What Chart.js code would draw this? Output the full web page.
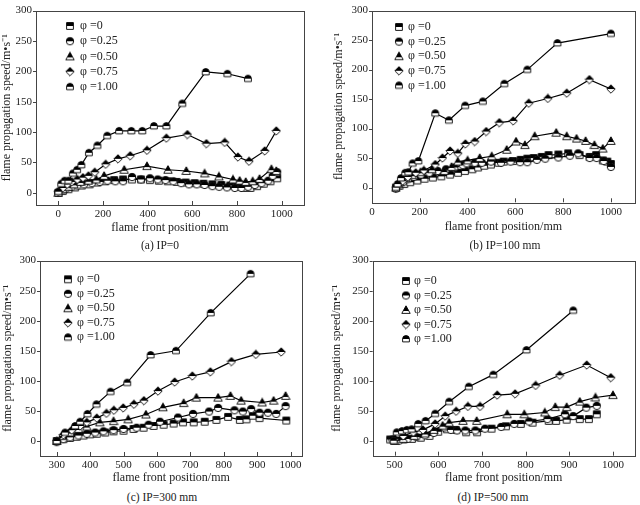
<!DOCTYPE html>
<html><head><meta charset="utf-8">
<script src="https://cdn.jsdelivr.net/npm/chart.js@4.4.0/dist/chart.umd.min.js"></script>
<style>
body{margin:0;background:#fff;width:640px;height:505px;position:relative;overflow:hidden;font-family:'Liberation Serif','Times New Roman',serif;}
canvas{position:absolute;}
.cap{position:absolute;font-size:11.5px;transform:translate(-50%,-50%);white-space:nowrap;color:#222;}
</style></head><body>
<canvas id="ca" width="320" height="235" style="left:0;top:0"></canvas>
<canvas id="cb" width="320" height="235" style="left:320px;top:0"></canvas>
<canvas id="cc" width="320" height="235" style="left:0;top:250px"></canvas>
<canvas id="cd" width="320" height="235" style="left:320px;top:250px"></canvas>
<div class="cap" style="left:160px;top:245px">(a) IP=0</div>
<div class="cap" style="left:505px;top:245px">(b) IP=100 mm</div>
<div class="cap" style="left:162px;top:497px">(c) IP=300 mm</div>
<div class="cap" style="left:493px;top:497px">(d) IP=500 mm</div>
<script>
// ---------- data ----------
const seriesLabels = ['φ =0', 'φ =0.25', 'φ =0.50', 'φ =0.75', 'φ =1.00'];
const yTicks = [0, 50, 100, 150, 200, 250, 300];

// (a) IP=0
const aTicksX = [0, 200, 400, 600, 800, 1000];
const a_x0 = [0, 20, 45, 75, 105, 140, 175, 210, 250, 290, 330, 370, 410, 450, 490, 530, 570, 610, 650, 690, 730, 770, 800, 830, 860, 890, 920, 950, 980];
const a_y0 = [0, 3, 6, 9, 12, 14, 17, 19, 21, 22, 22, 22, 21, 20, 19, 18, 17, 16, 15, 14, 13, 12, 10, 8, 8, 11, 15, 19, 24];
const a_x1 = [0, 15, 35, 60, 85, 115, 150, 185, 220, 255, 290, 330, 370, 410, 445, 480, 515, 550, 585, 620, 655, 690, 720, 755, 790, 820, 850, 880, 910, 940, 960, 980];
const a_y1 = [0, 4, 7, 10, 12, 14, 16, 18, 20, 19, 19, 26, 22, 24, 22, 21, 19, 16, 14, 14, 13, 11, 10, 9, 8, 8, 10, 13, 16, 20, 28, 34];
const a_x2 = [0, 20, 45, 70, 100, 135, 170, 205, 295, 397, 491, 573, 655, 719, 782, 812, 839, 870, 901, 954, 976];
const a_y2 = [0, 6, 10, 14, 18, 20, 22, 28, 38, 44, 38, 36, 32, 27, 22, 20, 18, 19, 23, 39, 36];
const a_x3 = [0, 20, 40, 60, 85, 110, 135, 163, 212, 267, 322, 397, 484, 578, 663, 745, 804, 854, 924, 976];
const a_y3 = [2, 8, 14, 18, 22, 25, 28, 34, 47, 56, 61, 70, 90, 96, 81, 83, 59, 52, 69, 102];
const a_x4 = [0, 13, 28, 45, 65, 84, 103, 137, 175, 219, 272, 327, 376, 428, 484, 555, 660, 757, 849];
const a_y4 = [2, 15, 20, 20, 32, 38, 46, 66, 78, 94, 102, 102, 102, 110, 110, 147, 199, 196, 188];

// (b) IP=100 mm
const bTicksX = [0, 200, 400, 600, 800, 1000];
const b_x0 = [100, 115, 135, 160, 190, 220, 255, 290, 327, 360, 389, 420, 444, 470, 498, 530, 551, 590, 622, 650, 677, 710, 739, 780, 821, 869, 911, 938, 966, 985, 1000];
const b_y0 = [0, 3, 6, 9, 12, 15, 17, 19, 22, 25, 28, 31, 34, 37, 39, 42, 44, 45, 47, 49, 50, 52, 55, 56, 58, 55, 52, 55, 46, 44, 40];
const b_x1 = [100, 112, 130, 150, 175, 205, 240, 275, 310, 345, 380, 396, 430, 460, 498, 540, 580, 620, 650, 690, 725, 780, 828, 863, 911, 940, 970, 1000];
const b_y1 = [-2, 4, 9, 14, 18, 22, 25, 28, 31, 34, 38, 41, 42, 42, 44, 42, 44, 43, 43, 47, 49, 51, 54, 58, 50, 50, 45, 35];
const b_x2 = [100, 117, 142, 169, 203, 251, 303, 333, 359, 400, 451, 501, 564, 603, 640, 681, 771, 815, 856, 894, 931, 966, 1000];
const b_y2 = [0, 9, 16, 21, 26, 31, 28, 35, 44, 46, 50, 53, 64, 78, 72, 87, 93, 87, 83, 79, 72, 66, 79];
const b_x3 = [100, 107, 128, 150, 183, 217, 265, 295, 327, 359, 391, 430, 478, 533, 591, 656, 736, 815, 910, 1000];
const b_y3 = [0, 3, 11, 18, 25, 29, 39, 50, 62, 58, 74, 78, 95, 110, 113, 143, 151, 160, 183, 167];
const b_x4 = [100, 107, 121, 139, 152, 170, 194, 265, 322, 390, 464, 554, 650, 776, 1000];
const b_y4 = [0, 6, 16, 25, 26, 41, 45, 126, 114, 139, 146, 176, 200, 245, 261];

// (c) IP=300 mm
const cTicksX = [300, 400, 500, 600, 700, 800, 900, 1000];
const c_x0 = [300, 320, 340, 360, 380, 400, 420, 445, 470, 500, 530, 560, 590, 620, 650, 678, 710, 743, 778, 813, 848, 868, 887, 907, 987];
const c_y0 = [0, 3, 5, 7, 9, 11, 12, 14, 16, 17, 20, 22, 25, 27, 29, 31, 31, 32, 35, 40, 35, 36, 42, 38, 34];
const c_x1 = [300, 320, 340, 365, 390, 415, 440, 470, 500, 539, 575, 609, 663, 708, 756, 783, 832, 857, 882, 907, 932, 957, 985];
const c_y1 = [-2, 3, 6, 9, 12, 14, 16, 18, 20, 22, 27, 32, 39, 45, 49, 55, 51, 49, 53, 47, 47, 45, 58];
const c_x2 = [300, 315, 340, 365, 390, 429, 470, 514, 567, 618, 680, 718, 783, 820, 852, 915, 949, 985];
const c_y2 = [0, 8, 14, 20, 24, 31, 33, 36, 44, 56, 63, 72, 72, 75, 67, 64, 67, 75];
const c_x3 = [300, 320, 345, 370, 390, 420, 449, 471, 499, 531, 561, 603, 653, 706, 760, 823, 896, 972];
const c_y3 = [0, 10, 18, 25, 31, 38, 46, 51, 55, 61, 67, 83, 98, 108, 115, 132, 144, 148];
const c_x4 = [300, 325, 355, 370, 392, 419, 461, 511, 581, 657, 761, 880];
const c_y4 = [0, 14, 25, 32, 45, 61, 82, 97, 143, 150, 213, 278];

// (d) IP=500 mm
const dTicksX = [500, 600, 700, 800, 900, 1000];
const d_x0 = [490, 500, 520, 540, 560, 580, 600, 620, 640, 664, 689, 722, 755, 789, 816, 853, 870, 894, 924, 945, 963];
const d_y0 = [2, 0, 2, 3, 5, 8, 15, 19, 18, 14, 14, 20, 24, 28, 30, 33, 33, 35, 36, 36, 44];
const d_x1 = [495, 510, 530, 550, 570, 590, 614, 629, 643, 662, 685, 707, 744, 774, 808, 850, 890, 909, 939, 963];
const d_y1 = [2, 0, 3, 6, 9, 13, 22, 18, 17, 17, 17, 20, 23, 28, 32, 36, 44, 41, 55, 58];
const d_x2 = [500, 520, 545, 570, 590, 610, 625, 657, 688, 758, 797, 844, 868, 894, 924, 960, 1000];
const d_y2 = [0, 3, 8, 12, 18, 25, 30, 33, 33, 44, 44, 47, 56, 56, 65, 72, 76];
const d_x3 = [500, 520, 543, 565, 593, 616, 641, 668, 696, 735, 776, 823, 878, 940, 995];
const d_y3 = [3, 8, 14, 18, 28, 41, 49, 57, 57, 76, 78, 92, 109, 126, 105];
const d_x4 = [498, 505, 517, 528, 539, 554, 571, 593, 625, 670, 726, 802, 909];
const d_y4 = [0, 14, 16, 18, 19, 28, 33, 45, 65, 90, 110, 151, 217];

// ---------- markers ----------
const FONT = "'Liberation Serif','Times New Roman',serif";
function marker(kind) {
  const s = 10, m = 5, r = 3.4;
  const cv = document.createElement('canvas'); cv.width = s; cv.height = s;
  const g = cv.getContext('2d');
  g.beginPath();
  if (kind === 'square') g.rect(m - r, m - r, 2 * r, 2 * r);
  else if (kind === 'circle') g.arc(m, m, r + 0.3, 0, Math.PI * 2);
  else if (kind === 'triangle') { g.moveTo(m, m - r - 0.8); g.lineTo(m + r + 0.8, m + r); g.lineTo(m - r - 0.8, m + r); g.closePath(); }
  else if (kind === 'diamond') { g.moveTo(m, m - r - 0.8); g.lineTo(m + r + 0.8, m); g.lineTo(m, m + r + 0.8); g.lineTo(m - r - 0.8, m); g.closePath(); }
  else { g.moveTo(m - r, m); g.arc(m, m, r, Math.PI, 0); g.lineTo(m + r, m + r - 0.5); g.lineTo(m - r, m + r - 0.5); g.closePath(); }
  g.fillStyle = '#fff'; g.fill();
  g.save(); g.clip(); g.fillStyle = '#000'; g.fillRect(0, 0, s, kind === 'triangle' ? m + 1 : m); g.restore();
  g.lineWidth = 0.9; g.strokeStyle = '#000'; g.stroke();
  return cv;
}
const markers = ['square', 'circle', 'triangle', 'diamond', 'dome'].map(marker);

// ---------- panel builder ----------
const framePlugin = {
  id: 'frame',
  beforeDatasetsDraw(chart) {
    const { ctx, chartArea: a, scales } = chart;
    ctx.save();
    ctx.strokeStyle = '#444'; ctx.lineWidth = 1;
    ctx.strokeRect(Math.round(a.left) + 0.5, Math.round(a.top) + 0.5, Math.round(a.right - a.left), Math.round(a.bottom - a.top));
    ctx.beginPath();
    scales.x.ticks.forEach(t => { const p = Math.round(scales.x.getPixelForValue(t.value)) + 0.5; ctx.moveTo(p, a.bottom); ctx.lineTo(p, a.bottom - 4); });
    scales.y.ticks.forEach(t => { const p = Math.round(scales.y.getPixelForValue(t.value)) + 0.5; ctx.moveTo(a.left, p); ctx.lineTo(a.left - 3, p); });
    ctx.stroke();
    ctx.restore();
  },
  afterDatasetsDraw(chart, args, opts) {
    const { ctx } = chart;
    ctx.save();
    ctx.font = '12px ' + FONT; ctx.fillStyle = '#222'; ctx.textBaseline = 'middle'; ctx.textAlign = 'left';
    chart.data.datasets.forEach((ds, i) => {
      const y = opts.ly + i * opts.step;
      const img = ds.pointStyle;
      ctx.drawImage(img, opts.mx - img.width / 2, y - img.height / 2);
      ctx.fillText(ds.label, opts.tx, y);
    });
    ctx.restore();
  }
};

function makePanel(id, xs, ys, xmin, xmax, xTicks, lay) {
  const datasets = xs.map((xa, i) => ({
    label: seriesLabels[i],
    data: xa.map((x, j) => ({ x: x, y: ys[i][j] })),
    showLine: true, borderColor: '#000', borderWidth: 1.2, backgroundColor: '#000',
    pointStyle: markers[i], pointRadius: 4, pointHoverRadius: 4, tension: 0,
    order: 4 - i
  }));
  new Chart(document.getElementById(id), {
    type: 'scatter',
    data: { datasets: datasets },
    plugins: [framePlugin],
    options: {
      responsive: false, animation: false, devicePixelRatio: 1,
      layout: { padding: { left: 0, top: lay.top, right: lay.right, bottom: 0 } },
      plugins: { legend: { display: false }, tooltip: { enabled: false },
        frame: { mx: lay.mx, tx: lay.tx, ly: lay.ly, step: lay.step } },
      scales: {
        x: {
          type: 'linear', min: xmin, max: xmax,
          afterBuildTicks: s => { s.ticks = xTicks.map(v => ({ value: v })); },
          afterFit: s => { s.height = lay.xh; },
          ticks: { font: { family: FONT, size: 11 }, color: '#222', padding: 3, maxRotation: 0, autoSkip: false, callback: v => String(v) },
          grid: { display: false, drawTicks: false }, border: { display: false },
          title: { display: true, text: 'flame front position/mm', font: { family: FONT, size: 12 }, color: '#222', padding: { top: 0, bottom: lay.xpb } }
        },
        y: {
          type: 'linear', min: lay.ymin, max: 300,
          afterBuildTicks: s => { s.ticks = yTicks.map(v => ({ value: v })); },
          afterFit: s => { s.width = lay.yw; },
          ticks: { font: { family: FONT, size: 11 }, color: '#222', padding: 4, autoSkip: false, callback: v => String(v) },
          grid: { display: false, drawTicks: false }, border: { display: false },
          title: { display: true, text: 'flame propagation speed/m•s⁻¹', font: { family: FONT, size: 12 }, color: '#222', padding: { top: lay.ypt, bottom: 0 } }
        }
      }
    }
  });
}

makePanel('ca', [a_x0, a_x1, a_x2, a_x3, a_x4], [a_y0, a_y1, a_y2, a_y3, a_y4], -100, 1100, aTicksX,
  { top: 7, right: 16, yw: 36, xh: 30, xpb: 0, ypt: 0, ymin: -20, mx: 70, tx: 80, ly: 26, step: 15.2 });
makePanel('cb', [b_x0, b_x1, b_x2, b_x3, b_x4], [b_y0, b_y1, b_y2, b_y3, b_y4], 0, 1100, bTicksX,
  { top: 5, right: 1.5, yw: 52, xh: 32.7, xpb: 0.5, ypt: 12, ymin: -25, mx: 79, tx: 88, ly: 27, step: 14.6 });
makePanel('cc', [c_x0, c_x1, c_x2, c_x3, c_x4], [c_y0, c_y1, c_y2, c_y3, c_y4], 250, 1035, cTicksX,
  { top: 8.3, right: 17.7, yw: 40, xh: 29, xpb: 0, ypt: 1, ymin: -25, mx: 68, tx: 77, ly: 29.3, step: 14.5 });
makePanel('cd', [d_x0, d_x1, d_x2, d_x3, d_x4], [d_y0, d_y1, d_y2, d_y3, d_y4], 450, 1050, dTicksX,
  { top: 8.3, right: 1.3, yw: 52.7, xh: 29.3, xpb: 0, ypt: 9.5, ymin: -25, mx: 86, tx: 94, ly: 31, step: 14.5 });
</script>
</body></html>
